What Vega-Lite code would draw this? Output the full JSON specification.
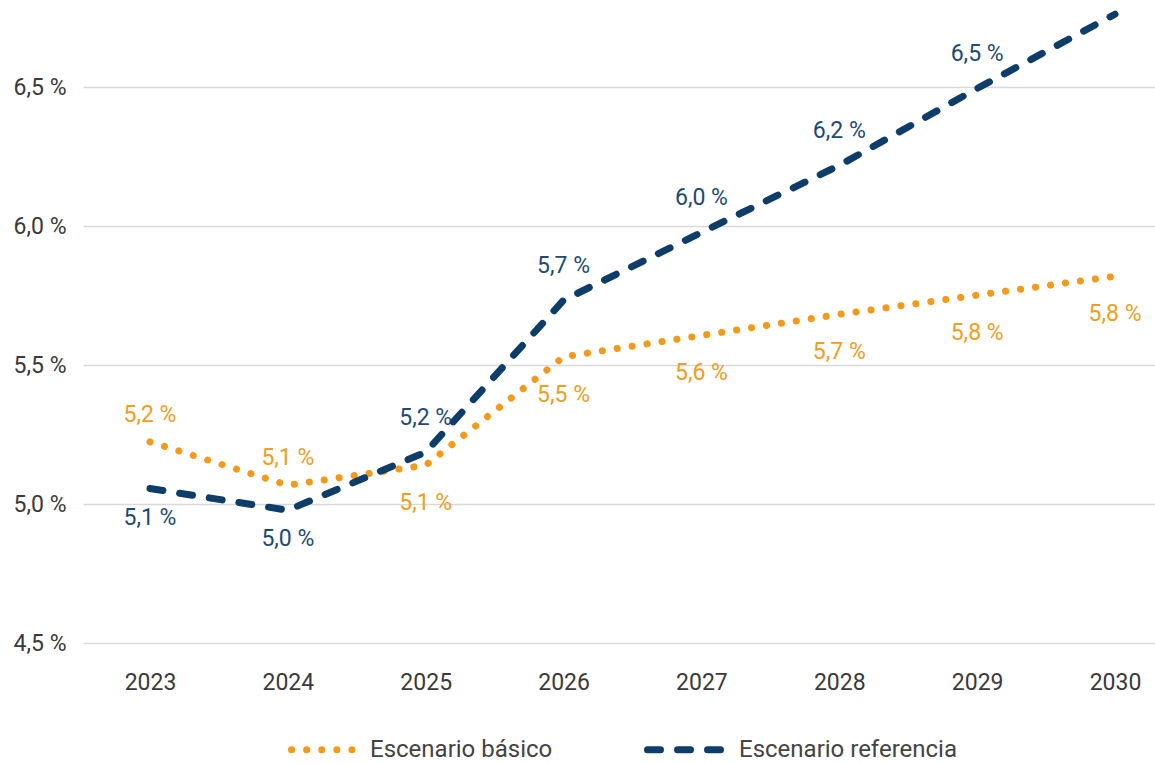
{
  "$schema": "https://vega.github.io/schema/vega-lite/v6.json",
  "width": 1072,
  "height": 639,
  "autosize": {"type": "none"},
  "padding": {"left": 83, "top": 4, "right": 0, "bottom": 120},
  "background": "#ffffff",
  "config": {
    "font": "Roboto",
    "view": {"stroke": null},
    "axis": {"labelFont": "Roboto", "labelFontSize": 23, "labelColor": "#3a3a3a", "domain": false, "ticks": false, "title": null}
  },
  "data": {
    "values": [
      {"year": 2023, "series": "Escenario básico", "value": 5.224},
      {"year": 2024, "series": "Escenario básico", "value": 5.068},
      {"year": 2025, "series": "Escenario básico", "value": 5.14},
      {"year": 2026, "series": "Escenario básico", "value": 5.53},
      {"year": 2027, "series": "Escenario básico", "value": 5.607},
      {"year": 2028, "series": "Escenario básico", "value": 5.683},
      {"year": 2029, "series": "Escenario básico", "value": 5.752},
      {"year": 2030, "series": "Escenario básico", "value": 5.82},
      {"year": 2023, "series": "Escenario referencia", "value": 5.056},
      {"year": 2024, "series": "Escenario referencia", "value": 4.978},
      {"year": 2025, "series": "Escenario referencia", "value": 5.187},
      {"year": 2026, "series": "Escenario referencia", "value": 5.734},
      {"year": 2027, "series": "Escenario referencia", "value": 5.978},
      {"year": 2028, "series": "Escenario referencia", "value": 6.219},
      {"year": 2029, "series": "Escenario referencia", "value": 6.496},
      {"year": 2030, "series": "Escenario referencia", "value": 6.763}
    ]
  },
  "transform": [
    {"calculate": "replace(format(datum.value, '.1f'), '.', ',') + ' %'", "as": "label"}
  ],
  "encoding": {
    "x": {
      "field": "year", "type": "quantitative",
      "scale": {"domain": [2022.514, 2030.29], "nice": false, "zero": false},
      "axis": {"values": [2023, 2024, 2025, 2026, 2027, 2028, 2029, 2030], "format": "d", "grid": false, "labelPadding": 28, "labelFlush": false}
    },
    "y": {
      "field": "value", "type": "quantitative",
      "scale": {"domain": [4.5, 6.8], "nice": false, "zero": false},
      "axis": {"values": [4.5, 5.0, 5.5, 6.0, 6.5], "labelExpr": "replace(format(datum.value, '.1f'), '.', ',') + ' %'", "grid": true, "gridColor": "#d9d9d9", "gridWidth": 1.5, "labelPadding": 17}
    }
  },
  "layer": [
    {
      "mark": {"type": "line", "strokeWidth": 7, "strokeCap": "round", "strokeJoin": "round"},
      "encoding": {
        "color": {
          "field": "series", "type": "nominal",
          "scale": {"domain": ["Escenario básico", "Escenario referencia"], "range": ["#f39a1b", "#0d3d68"]},
          "legend": {
            "orient": "none", "legendX": 205, "legendY": 705, "direction": "horizontal", "title": null,
            "symbolType": "stroke", "symbolSize": 5476, "symbolStrokeWidth": 7,
            "labelFont": "Roboto", "labelFontSize": 24, "labelColor": "#444444", "labelOffset": 1,
            "labelLimit": 400, "columnPadding": 80,
            "encode": {
              "symbols": {"update": {"strokeCap": {"value": "round"}}},
              "labels": {"update": {"dx": {"signal": "datum.index === 1 ? 13 : 0"}}}
            }
          }
        },
        "strokeDash": {
          "field": "series", "type": "nominal",
          "scale": {"domain": ["Escenario básico", "Escenario referencia"], "range": [[0.1, 15], [13, 17]]},
          "legend": null
        }
      }
    },
    {
      "transform": [{"filter": "datum.series == 'Escenario referencia' && datum.year >= 2025 && datum.year <= 2029"}],
      "mark": {"type": "text", "dy": -34, "fontSize": 23, "font": "Roboto", "color": "#1c4a76"},
      "encoding": {"text": {"field": "label"}}
    },
    {
      "transform": [{"filter": "datum.series == 'Escenario referencia' && datum.year <= 2024"}],
      "mark": {"type": "text", "dy": 29, "fontSize": 23, "font": "Roboto", "color": "#1c4a76"},
      "encoding": {"text": {"field": "label"}}
    },
    {
      "transform": [{"filter": "datum.series == 'Escenario básico' && datum.year <= 2024"}],
      "mark": {"type": "text", "dy": -27, "fontSize": 23, "font": "Roboto", "color": "#f29c22"},
      "encoding": {"text": {"field": "label"}}
    },
    {
      "transform": [{"filter": "datum.series == 'Escenario básico' && datum.year >= 2025"}],
      "mark": {"type": "text", "dy": 38, "fontSize": 23, "font": "Roboto", "color": "#f29c22"},
      "encoding": {"text": {"field": "label"}}
    }
  ]
}
